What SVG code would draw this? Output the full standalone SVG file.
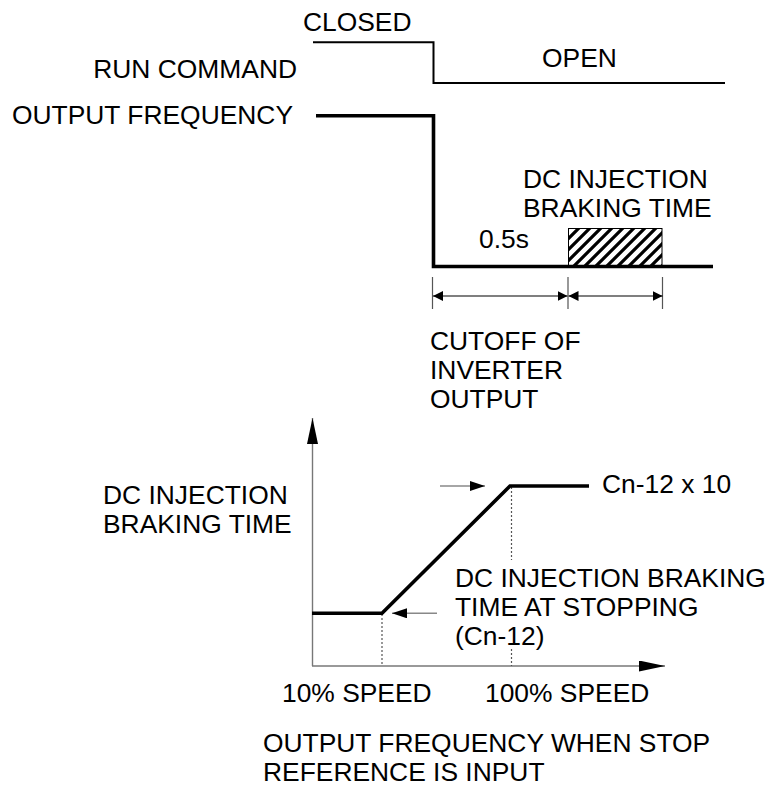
<svg xmlns="http://www.w3.org/2000/svg" width="769" height="792" viewBox="0 0 769 792">
<style>
text{font-family:"Liberation Sans",Arial,sans-serif;font-size:26.4px;fill:#000}
.thin{fill:none;stroke:#000;stroke-width:2}
.thick{fill:none;stroke:#000;stroke-width:3.6}
.dim{fill:none;stroke:#000;stroke-width:1.2}
.tick{fill:none;stroke:#555;stroke-width:1.2}
.axis{fill:none;stroke:#777;stroke-width:1.4}
.dot{fill:none;stroke:#555;stroke-width:1.2;stroke-dasharray:2 2}
.garrow{fill:none;stroke:#888;stroke-width:1.4}
</style>
<defs>
<marker id="ah" viewBox="0 0 10 10" refX="10" refY="5" markerWidth="10" markerHeight="10" markerUnits="userSpaceOnUse" orient="auto-start-reverse"><path d="M0,0 L10,5 L0,10 z" fill="#000"/></marker>
<marker id="ah2" viewBox="0 0 15 10" refX="15" refY="5" markerWidth="15" markerHeight="10" markerUnits="userSpaceOnUse" orient="auto"><path d="M0,0 L15,5 L0,10 z" fill="#000"/></marker>
<marker id="ax" viewBox="0 0 26 11" refX="26" refY="5.5" markerWidth="26" markerHeight="11" markerUnits="userSpaceOnUse" orient="auto"><path d="M0,0 L26,5.5 L0,11 z" fill="#000"/></marker>
<pattern id="hatch" patternUnits="userSpaceOnUse" width="11" height="11" x="568" y="228">
<path d="M-3,3 L3,-3 M0,11 L11,0 M8,14 L14,8" stroke="#000" stroke-width="3.2"/>
</pattern>
</defs>

<g id="labels-top">
<text x="303" y="31">CLOSED</text>
<text x="297" y="78" text-anchor="end">RUN COMMAND</text>
<text x="542" y="67">OPEN</text>
<text x="12" y="124">OUTPUT FREQUENCY</text>
<text x="523" y="188">DC INJECTION</text>
<text x="523" y="217">BRAKING TIME</text>
<text x="479" y="248">0.5s</text>
<text x="430" y="350">CUTOFF OF</text>
<text x="430" y="379">INVERTER</text>
<text x="430" y="408">OUTPUT</text>
</g>

<g id="run-command">
<path class="thin" d="M313,42.3 H433.5 V83 H725"/>
</g>

<g id="output-frequency">
<path class="thick" d="M316,115.7 H433.5 V266.5 H713"/>
</g>

<g id="braking-block">
<rect x="568.5" y="228.5" width="93.5" height="38" fill="url(#hatch)" stroke="#000" stroke-width="1"/>
</g>

<g id="dimensions">
<path class="tick" d="M432.5,277 V309 M568,277 V309 M662.5,277 V309"/>
<line class="dim" x1="433" y1="296" x2="567.5" y2="296" marker-start="url(#ah)" marker-end="url(#ah)"/>
<line class="dim" x1="568.5" y1="296" x2="662.5" y2="296" marker-start="url(#ah)" marker-end="url(#ah)"/>
</g>

<g id="chart-labels">
<text x="103" y="504">DC INJECTION</text>
<text x="103" y="533">BRAKING TIME</text>
<text x="602" y="493">Cn-12 x 10</text>
<text x="455" y="587">DC INJECTION BRAKING</text>
<text x="455" y="616">TIME AT STOPPING</text>
<text x="455" y="645">(Cn-12)</text>
<text x="282" y="702">10% SPEED</text>
<text x="485" y="702">100% SPEED</text>
<text x="263" y="752">OUTPUT FREQUENCY WHEN STOP</text>
<text x="263" y="781">REFERENCE IS INPUT</text>
</g>

<g id="axes">
<line class="axis" x1="312.5" y1="666" x2="312.5" y2="418" marker-end="url(#ax)"/>
<line class="axis" x1="312" y1="666" x2="665" y2="666" marker-end="url(#ax)"/>
</g>

<g id="guides">
<path class="dot" d="M382,614 V666 M511.5,487 V560 M511.5,649 V666"/>
</g>

<g id="curve">
<path class="thick" d="M312,613.3 H382 L510,486 H589" stroke-linejoin="miter"/>
</g>

<g id="connectors">
<line class="garrow" x1="440" y1="486" x2="485" y2="486" marker-end="url(#ah2)"/>
<line class="garrow" x1="437" y1="613.3" x2="392" y2="613.3" marker-end="url(#ah2)"/>
</g>
</svg>
